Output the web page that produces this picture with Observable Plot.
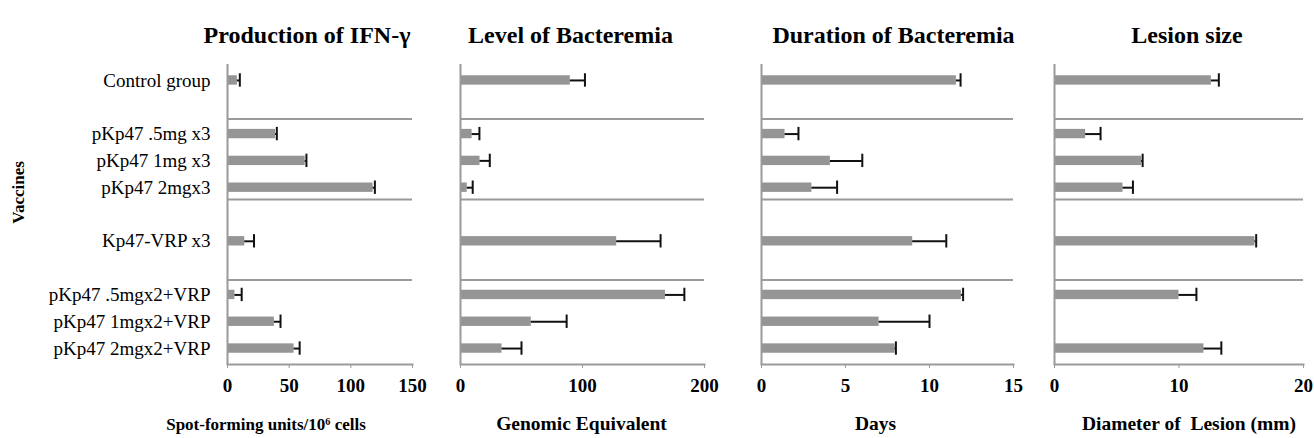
<!DOCTYPE html>
<html>
<head>
<meta charset="utf-8">
<script src="https://cdn.jsdelivr.net/npm/d3@7"></script>
<script src="https://cdn.jsdelivr.net/npm/@observablehq/plot@0.6"></script>
<style>
  html, body { margin: 0; padding: 0; background: #fff; }
  #wrap { position: relative; width: 1314px; height: 438px; overflow: hidden; }
  .panel { position: absolute; top: 0; }
</style>
</head>
<body>
<div id="wrap"></div>
<script>
// ---- data ----
const vaccines = ["Control group", "pKp47 .5mg x3", "pKp47 1mg x3", "pKp47 2mgx3", "Kp47-VRP x3", "pKp47 .5mgx2+VRP", "pKp47 1mgx2+VRP", "pKp47 2mgx2+VRP"];
const rowOrder = ["Control group", "gap1", "pKp47 .5mg x3", "pKp47 1mg x3", "pKp47 2mgx3", "gap2", "Kp47-VRP x3", "gap3", "pKp47 .5mgx2+VRP", "pKp47 1mgx2+VRP", "pKp47 2mgx2+VRP"];
const separatorRows = ["pKp47 .5mg x3", "gap2", "pKp47 .5mgx2+VRP"];

const panelTitles = ["Production of IFN-γ", "Level of Bacteremia", "Duration of Bacteremia", "Lesion size"];
const axisTitles = ["Spot-forming units/10⁶ cells", "Genomic Equivalent", "Days", "Diameter of  Lesion (mm)"];
const axisMax = [150, 200, 15, 20];
const axisTicks = [[0, 50, 100, 150], [0, 100, 200], [0, 5, 10, 15], [0, 10, 20]];

const ifnValues = [8, 39, 63, 118, 14, 6, 38, 54];
const ifnErrors = [2, 1, 1, 1.5, 7.5, 5.5, 5, 4.5];
const levelValues = [90, 9.5, 16, 5.5, 128, 168, 58, 34];
const levelErrors = [12, 6, 8, 4.5, 36, 15.5, 29, 16];
const durationValues = [11.6, 1.4, 4.1, 3.0, 9.0, 11.9, 7.0, 7.95];
const durationErrors = [0.25, 0.8, 1.9, 1.5, 2.0, 0.1, 3.0, 0.05];
const lesionValues = [12.6, 2.5, 7.0, 5.5, 16.1, 10.0, 0, 12.0];
const lesionErrors = [0.6, 1.2, 0.08, 0.8, 0.1, 1.4, 0, 1.4];

const seriesValues = [ifnValues, levelValues, durationValues, lesionValues];
const seriesErrors = [ifnErrors, levelErrors, durationErrors, lesionErrors];

// ---- layout ----
const FONT = "Liberation Serif, Times New Roman, serif";
const layout = [
  {left: 0,    width: 440, ml: 227, mr: 28, titleDx: -13, axisDx: -54, axisFont: 17},
  {left: 440,  width: 300, ml: 20,  mr: 36, titleDx: -12, axisDx: -1,  axisFont: 19.5},
  {left: 740,  width: 290, ml: 21,  mr: 17, titleDx: 6,   axisDx: -12, axisFont: 19.5},
  {left: 1030, width: 284, ml: 24,  mr: 11, titleDx: 8,   axisDx: 10,  axisFont: 19.5}
];
const GRAY = "#9a9a9a";
const wrap = document.getElementById("wrap");

layout.forEach((L, p) => {
  const data = vaccines.map((v, i) => ({vaccine: v, value: seriesValues[p][i], err: seriesErrors[p][i]}));
  const withErr = data.filter(d => d.value > 0);
  const marks = [
    Plot.ruleY(separatorRows, {stroke: GRAY, strokeWidth: 2, dy: -15}),
    Plot.barX(data, {x: "value", y: "vaccine", fill: "#959595"}),
    Plot.ruleY(withErr, {y: "vaccine", x1: "value", x2: d => d.value + d.err, stroke: "#111", strokeWidth: 2}),
    Plot.tickX(withErr, {x: d => d.value + d.err, y: "vaccine", stroke: "#111", strokeWidth: 2, insetTop: -2, insetBottom: -2}),
    Plot.ruleX([0], {stroke: GRAY, strokeWidth: 2}),
    Plot.frame({anchor: "bottom", stroke: GRAY, strokeWidth: 2}),
    Plot.axisX({ticks: axisTicks[p], tickSize: 4, tickPadding: 10, stroke: GRAY, fill: "#000", fontSize: 19, fontWeight: "bold", fontFamily: FONT, label: null}),
    Plot.text([panelTitles[p]], {frameAnchor: "top", dy: -39, dx: L.titleDx, fontSize: 24, fontWeight: "bold", fontFamily: FONT, fill: "#000"}),
    Plot.text([axisTitles[p]], {frameAnchor: "bottom", dy: 65, dx: L.axisDx, fontSize: L.axisFont, fontWeight: "bold", fontFamily: FONT, fill: "#000"})
  ];
  if (p === 0) {
    marks.push(Plot.axisY({tickSize: 0, tickPadding: 17, fontSize: 19, fontFamily: FONT, fill: "#000", label: null,
      tickFormat: d => d.startsWith("gap") ? "" : d}));
    marks.push(Plot.text(["Vaccines"], {frameAnchor: "left", textAnchor: "middle", dx: -209, dy: -22, rotate: -90, fontSize: 17, fontWeight: "bold", fontFamily: FONT, fill: "#000"}));
  }
  const chart = Plot.plot({
    width: L.width,
    height: 438,
    marginLeft: L.ml,
    marginRight: L.mr,
    marginTop: 64,
    marginBottom: 74,
    style: {background: "transparent", overflow: "visible"},
    x: {domain: [0, axisMax[p]]},
    y: {domain: rowOrder, paddingInner: 0.65, paddingOuter: 0.42, round: false, axis: p === 0 ? undefined : null},
    marks
  });
  const div = document.createElement("div");
  div.className = "panel";
  div.style.left = L.left + "px";
  div.appendChild(chart);
  wrap.appendChild(div);
});
</script>
</body>
</html>
